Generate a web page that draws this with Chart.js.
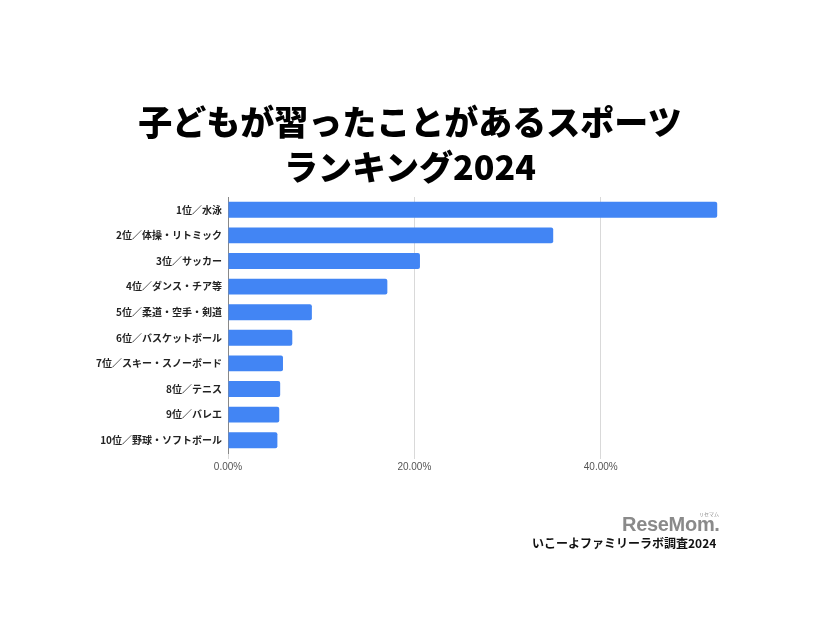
<!DOCTYPE html>
<html>
<head>
<meta charset="utf-8">
<script src="https://cdn.jsdelivr.net/npm/chart.js@4/dist/chart.umd.min.js"></script>
<style>
  html, body { margin: 0; padding: 0; background: #fff; }
  #wrap { position: relative; width: 826px; height: 620px; }
  canvas { position: absolute; left: 0; top: 0; }
  .title { position: absolute; left: 0; width: 820px; text-align: center; font-family: "Noto Sans CJK JP", sans-serif; font-weight: 900; font-size: 34px; line-height: 34px; color: #000; white-space: nowrap; }
  .logo { position: absolute; left: 622px; top: 513px; font-family: "Liberation Sans", "DejaVu Sans", sans-serif; font-weight: bold; font-size: 20px; color: #8a8a8a; letter-spacing: -0.3px; }
  .logo-ruby { position: absolute; left: 699px; top: 511px; font-family: "Noto Sans CJK JP", sans-serif; font-size: 5px; line-height: 5px; color: #8a8a8a; }
  .source { position: absolute; left: 532px; top: 535px; font-family: "Noto Sans CJK JP", sans-serif; font-weight: bold; font-size: 12px; line-height: 16px; color: #111; white-space: nowrap; }
</style>
</head>
<body>
<div id="wrap">
  <canvas id="c" width="826" height="620"></canvas>
  <div class="title" id="t1" style="top:104px"></div>
  <div class="title" id="t2" style="top:149px"></div>
  <div class="logo-ruby">リセマム</div>
  <div class="logo">ReseMom.</div>
  <div class="source">いこーよファミリーラボ調査2024</div>
</div>
<script>
const titleLines = ["子どもが習ったことがあるスポーツ", "ランキング2024"];
const categories = [
  "1位／水泳",
  "2位／体操・リトミック",
  "3位／サッカー",
  "4位／ダンス・チア等",
  "5位／柔道・空手・剣道",
  "6位／バスケットボール",
  "7位／スキー・スノーボード",
  "8位／テニス",
  "9位／バレエ",
  "10位／野球・ソフトボール"
];
const shares = [52.5, 34.9, 20.6, 17.1, 9.0, 6.9, 5.9, 5.6, 5.5, 5.3];
const xTicks = [0, 20, 40];

document.getElementById('t1').textContent = titleLines[0];
document.getElementById('t2').textContent = titleLines[1];

new Chart(document.getElementById('c'), {
  type: 'bar',
  data: {
    labels: categories,
    datasets: [{
      data: shares,
      backgroundColor: '#4285f4',
      borderRadius: 2,
      borderSkipped: 'start',
      categoryPercentage: 1.0,
      barPercentage: 0.62
    }]
  },
  options: {
    indexAxis: 'y',
    responsive: false,
    animation: false,
    devicePixelRatio: 1,
    layout: { padding: { top: 197, right: 106, bottom: 145, left: 0 } },
    plugins: {
      legend: { display: false },
      tooltip: { enabled: false },
      title: { display: false }
    },
    scales: {
      x: {
        min: 0,
        max: 52.8,
        afterBuildTicks: (scale) => { scale.ticks = xTicks.map(v => ({ value: v })); },
        ticks: {
          color: '#555',
          font: { family: '"Liberation Sans", Arial, sans-serif', size: 10 },
          padding: 2,
          callback: (v) => Number(v).toFixed(2) + '%'
        },
        grid: { color: '#d9d9d9', lineWidth: 1, tickLength: 6, drawTicks: true },
        border: { display: false }
      },
      y: {
        afterFit: (scale) => { scale.width = 228; },
        ticks: {
          color: '#222',
          font: { family: '"Noto Sans CJK JP", sans-serif', size: 10, weight: 'bold' },
          padding: 6
        },
        grid: { display: false, drawTicks: false },
        border: { display: true, color: '#888', width: 1 }
      }
    }
  }
});
</script>
</body>
</html>
